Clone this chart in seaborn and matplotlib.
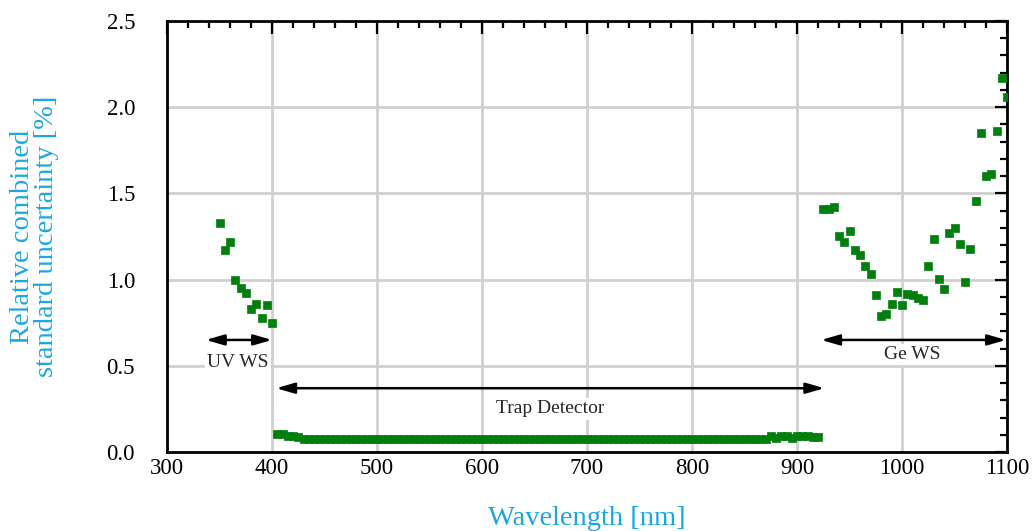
import matplotlib

matplotlib.use("Agg")
import matplotlib.pyplot as plt
import numpy as np
import pandas as pd
import seaborn as sns
from matplotlib.ticker import MultipleLocator

# UV working standard
uv_wl = [350, 355, 360, 365, 370, 375, 380, 385, 390, 395, 400]
uv_unc = [1.33, 1.17, 1.22, 1.00, 0.95, 0.92, 0.83, 0.86, 0.78, 0.85, 0.75]

# trap detector, 405 ... 920 nm
trap_wl = list(range(405, 925, 5))
trap_unc = [
    0.105, 0.105, 0.095, 0.095, 0.085, 0.075, 0.075, 0.075, 0.075, 0.075,
    0.075, 0.075, 0.075, 0.075, 0.075, 0.075, 0.075, 0.075, 0.075, 0.075,
    0.075, 0.075, 0.075, 0.075, 0.075, 0.075, 0.075, 0.075, 0.075, 0.075,
    0.075, 0.075, 0.075, 0.075, 0.075, 0.075, 0.075, 0.075, 0.075, 0.075,
    0.075, 0.075, 0.075, 0.075, 0.075, 0.075, 0.075, 0.075, 0.075, 0.075,
    0.075, 0.075, 0.075, 0.075, 0.075, 0.075, 0.075, 0.075, 0.075, 0.075,
    0.075, 0.075, 0.075, 0.075, 0.075, 0.075, 0.075, 0.075, 0.075, 0.075,
    0.075, 0.075, 0.075, 0.075, 0.075, 0.075, 0.075, 0.075, 0.075, 0.075,
    0.075, 0.075, 0.075, 0.075, 0.075, 0.075, 0.075, 0.075, 0.075, 0.075,
    0.075, 0.075, 0.075, 0.075, 0.090, 0.080, 0.090, 0.092, 0.082, 0.090,
    0.092, 0.090, 0.088, 0.088,
]

# Ge working standard
ge_wl = [925, 930, 935, 940, 945, 950, 955, 960, 965, 970, 975, 980,
         985, 990, 995, 1000, 1005, 1010, 1015, 1020, 1025, 1030, 1035, 1040,
         1045, 1050, 1055, 1060, 1065, 1070, 1075, 1080, 1085, 1090, 1095, 1100]
ge_unc = [1.41, 1.41, 1.42, 1.255, 1.22, 1.28, 1.17, 1.14, 1.08, 1.035, 0.91, 0.79,
          0.80, 0.86, 0.93, 0.85, 0.915, 0.91, 0.895, 0.88, 1.08, 1.235, 1.005, 0.945,
          1.27, 1.30, 1.205, 0.985, 1.175, 1.455, 1.85, 1.60, 1.61, 1.86, 2.17, 2.06]

LABEL_COLOR = "#1aa7e0"
MARKER_COLOR = "#007f0e"

df = pd.DataFrame({
    "wavelength": uv_wl + trap_wl + ge_wl,
    "uncertainty": uv_unc + trap_unc + ge_unc,
})

sns.set_style("white")
plt.rcParams["font.family"] = ["Liberation Serif", "DejaVu Serif"]

fig = plt.figure(figsize=(10.33, 5.31), dpi=100)
ax = fig.add_axes([167 / 1033, 1 - 452 / 531, 840 / 1033, 431 / 531])

sns.scatterplot(data=df, x="wavelength", y="uncertainty", marker="s",
                s=40, color=MARKER_COLOR, edgecolor=MARKER_COLOR,
                linewidth=0.5, ax=ax, zorder=3)

ax.set_xlim(300, 1100)
ax.set_ylim(0, 2.5)
ax.xaxis.set_major_locator(MultipleLocator(100))
ax.xaxis.set_minor_locator(MultipleLocator(20))
ax.yaxis.set_major_locator(MultipleLocator(0.5))
ax.yaxis.set_minor_locator(MultipleLocator(0.1))
ax.yaxis.set_major_formatter(matplotlib.ticker.FormatStrFormatter("%.1f"))
ax.grid(True, which="major", color="#d0d0d0", linewidth=2, zorder=0)
ax.set_axisbelow(True)
ax.tick_params(which="both", direction="in", top=True, right=True,
               colors="black", labelsize=16.5, width=1.6)
ax.tick_params(which="major", length=9)
ax.tick_params(which="minor", length=5)
ax.tick_params(axis="x", which="major", pad=4)
ax.tick_params(axis="y", which="major", pad=23)
for sp in ax.spines.values():
    sp.set_color("black")
    sp.set_linewidth(2)

ax.set_xlabel("Wavelength [nm]", color=LABEL_COLOR, fontsize=20.5, labelpad=20)
ax.set_ylabel("Relative combined\nstandard uncertainty [%]", color=LABEL_COLOR,
              fontsize=20.5, linespacing=0.95)
ax.yaxis.set_label_coords(-0.128, 0.5)

arrow = dict(arrowstyle="<|-|>,head_length=1.1,head_width=0.32",
             color="black", lw=1.8, shrinkA=0, shrinkB=0)
box = dict(facecolor="white", edgecolor="none", pad=1.5)

ax.annotate("", xy=(337, 0.65), xytext=(400, 0.65), arrowprops=arrow)
ax.text(367.5, 0.52, "UV WS", ha="center", va="center", fontsize=14, bbox=box)

ax.annotate("", xy=(404, 0.37), xytext=(926, 0.37), arrowprops=arrow)
ax.text(665, 0.25, "Trap Detector", ha="center", va="center", fontsize=14, bbox=box)

ax.annotate("", xy=(923, 0.65), xytext=(1099, 0.65), arrowprops=arrow)
ax.text(1010, 0.565, "Ge WS", ha="center", va="center", fontsize=14, bbox=box)

fig.savefig("out.png", dpi=100)
plt.close(fig)
